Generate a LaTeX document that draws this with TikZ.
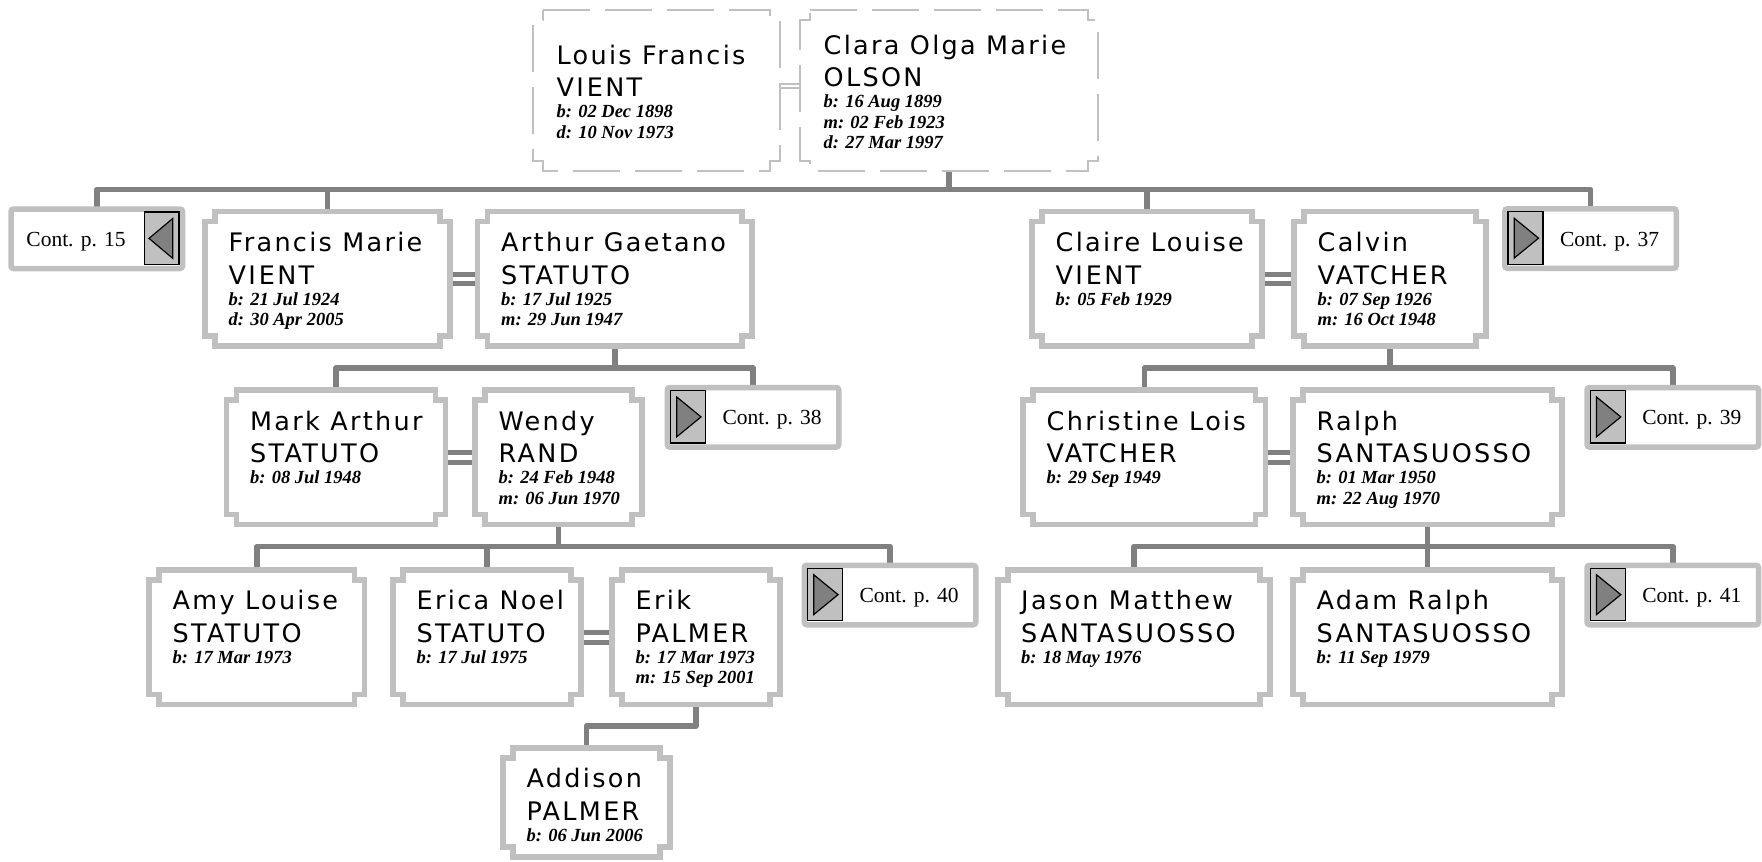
\documentclass[tikz,border=0pt]{standalone}
\usepackage{fontspec}
\setmainfont{Liberation Serif}
\newfontfamily\nmfont[LetterSpace=9]{DejaVu Sans}
\usetikzlibrary{calc}
\definecolor{lg}{HTML}{C0C0C0}
\definecolor{dg}{HTML}{808080}
\pgfdeclarelayer{bg}
\pgfsetlayers{bg,main}

\newcommand\nbox[6][]{%
  \node[inner sep=0pt, outer sep=0pt, minimum width={#5-#3}, minimum height={#6-#4}] (#2) at ({(#3+#5)/2},{(#4+#6)/2}) {};
  \draw[nb,#1] ({#3+10},#4) -- ({#5-10},#4) -- ({#5-10},{#4+10}) -- (#5,{#4+10}) -- (#5,{#6-10}) -- ({#5-10},{#6-10}) -- ({#5-10},#6) -- ({#3+10},#6) -- ({#3+10},{#6-10}) -- (#3,{#6-10}) -- (#3,{#4+10}) -- ({#3+10},{#4+10}) -- cycle;
}
\newcommand\pname[5]{%
  \node[nm] (#1-a) at (#2,#3) {#4};
  \node[nm] (#1-b) at (#2,{#3+32.5}) {#5};}
\newcommand\pdates[4]{%
  \foreach \dline [count=\i] in {#4} {\node[dt] (#1-d\i) at (#2,{#3+(\i-1)*20.5}) {\dline};}}
\newcommand\contR[4]{%
  \node[cbox] (#1) at (#2,#3) {};
  \path (#1.north west) coordinate (#1-tl);
  \draw[icon] ($(#1-tl)+(3.2,3)$) rectangle ($(#1-tl)+(38.2,55.5)$);
  \draw[tri] ($(#1-tl)+(9.5,9.5)$) -- ($(#1-tl)+(33.8,29.4)$) -- ($(#1-tl)+(9.5,49.3)$) -- cycle;
  \node[ct] (#1-t) at ($(#1-tl)+(104.85,37.25)$) {#4};}
\newcommand\contL[4]{%
  \node[cbox] (#1) at (#2,#3) {};
  \path (#1.north east) coordinate (#1-tr);
  \draw[icon] ($(#1-tr)+(-38.2,3)$) rectangle ($(#1-tr)+(-3.5,55.5)$);
  \draw[tri] ($(#1-tr)+(-9.8,9.5)$) -- ($(#1-tr)+(-33.5,29.4)$) -- ($(#1-tr)+(-9.8,49.3)$) -- cycle;
  \node[ct] (#1-t) at ($(#1.north west)+(65,37.25)$) {#4};}

\begin{document}
\begin{tikzpicture}[x=1pt,y=-1pt,
  nb/.style={draw=lg, line width=5.5pt, fill=white},
  topb/.style={line width=1.4pt, dash pattern=on 47pt off 15pt},
  conn/.style={draw=dg, line width=5.5pt, line join=round},
  dbar/.style={draw=dg, line width=5pt},
  thinbar/.style={draw=lg, line width=1.3pt},
  cbox/.style={draw=lg, line width=5.5pt, fill=white, rounded corners=2.5pt, minimum width=171.5pt, minimum height=59.5pt, inner sep=0pt, outer sep=0pt},
  icon/.style={draw=black, line width=1.1pt, fill=lg},
  tri/.style={draw=black, line width=1.2pt, fill=dg},
  ct/.style={anchor=base, inner sep=0pt, font=\fontsize{21.5}{24}\selectfont},
  nm/.style={anchor=base west, inner sep=0pt, font=\nmfont\fontsize{25.5}{30}\selectfont},
  dt/.style={anchor=base west, inner sep=0pt, font=\fontsize{18.5}{20}\selectfont\bfseries\itshape}]
\useasboundingbox (0,0) rectangle (1762,862);

% generation 1
\nbox[topb]{louis}{533}{10}{780}{171}
\pname{louis}{556.5}{64.3}{Louis Francis}{VI\kern3pt ENT}
\pdates{louis}{556.5}{117.7}{b: 02 Dec 1898,d: 10 Nov 1973}
\nbox[topb]{clara}{800}{10}{1098}{171}
\pname{clara}{823.5}{54}{Clara Olga Marie}{OLSON}
\pdates{clara}{823.5}{107.5}{b: 16 Aug 1899,m: 02 Feb 1923,d: 27 Mar 1997}

% generation 2
\contL{c15}{96.75}{238.75}{Cont. p. 15}
\nbox{francis}{205}{211.5}{450}{346}
\pname{francis}{228.5}{251.5}{Francis Marie}{VI\kern3pt ENT}
\pdates{francis}{228.5}{305}{b: 21 Jul 1924,d: 30 Apr 2005}
\nbox{arthur}{477.5}{211.5}{752}{346}
\pname{arthur}{501}{251.5}{Arthur Gaetano}{STATUTO}
\pdates{arthur}{501}{305}{b: 17 Jul 1925,m: 29 Jun 1947}
\nbox{claire}{1032}{211.5}{1262}{346}
\pname{claire}{1055.5}{251.5}{Claire Louise}{VI\kern3pt ENT}
\pdates{claire}{1055.5}{305}{b: 05 Feb 1929}
\nbox{calvin}{1294}{211.5}{1486}{346}
\pname{calvin}{1317.5}{251.5}{Calvin}{VATCHER}
\pdates{calvin}{1317.5}{305}{b: 07 Sep 1926,m: 16 Oct 1948}
\contR{c37}{1590.5}{238.5}{Cont. p. 37}

% generation 3
\nbox{mark}{226.5}{390}{445.5}{524.5}
\pname{mark}{250}{430}{Mark Arthur}{STATUTO}
\pdates{mark}{250}{483.5}{b: 08 Jul 1948}
\nbox{wendy}{475}{390}{642}{524.5}
\pname{wendy}{498.5}{430}{Wendy}{RAND}
\pdates{wendy}{498.5}{483.5}{b: 24 Feb 1948,m: 06 Jun 1970}
\contR{c38}{753}{417.25}{Cont. p. 38}
\nbox{christine}{1023}{390}{1265.5}{524.5}
\pname{christine}{1046.5}{430}{Christine Lois}{VATCHER}
\pdates{christine}{1046.5}{483.5}{b: 29 Sep 1949}
\nbox{ralph}{1293}{390}{1562}{524.5}
\pname{ralph}{1316.5}{430}{Ralph}{SANTASUOSSO}
\pdates{ralph}{1316.5}{483.5}{b: 01 Mar 1950,m: 22 Aug 1970}
\contR{c39}{1672.75}{417.25}{Cont. p. 39}

% generation 4
\nbox{amy}{149}{570}{364.5}{704.5}
\pname{amy}{172.5}{609.5}{Amy Louise}{STATUTO}
\pdates{amy}{172.5}{663}{b: 17 Mar 1973}
\nbox{erica}{393}{570}{581}{704.5}
\pname{erica}{416.5}{609.5}{Erica Noel}{STATUTO}
\pdates{erica}{416.5}{663}{b: 17 Jul 1975}
\nbox{erik}{612}{570}{780}{704.5}
\pname{erik}{635.5}{609.5}{Erik}{PALMER}
\pdates{erik}{635.5}{663}{b: 17 Mar 1973,m: 15 Sep 2001}
\contR{c40}{890}{595}{Cont. p. 40}
\nbox{jason}{998}{570}{1270}{704.5}
\pname{jason}{1021}{609.5}{Jason Matthew}{SANTASUOSSO}
\pdates{jason}{1021}{663}{b: 18 May 1976}
\nbox{adam}{1293}{570}{1562}{704.5}
\pname{adam}{1316.5}{609.5}{Adam Ralph}{SANTASUOSSO}
\pdates{adam}{1316.5}{663}{b: 11 Sep 1979}
\contR{c41}{1672.75}{595}{Cont. p. 41}

% generation 5
\nbox{addison}{503}{748}{670}{857}
\pname{addison}{526.5}{787.5}{Addison}{PALMER}
\pdates{addison}{526.5}{841}{b: 06 Jun 2006}

\coordinate (y1) at (0,189.5);
\coordinate (y2) at (0,368);
\coordinate (y3) at (0,546.5);
\coordinate (y4) at (0,725.8);

\begin{pgfonlayer}{bg}
% spouse bars
\draw[thinbar] ($(louis.north east)+(0,74)$) -- ($(clara.north west)+(0,74)$);
\draw[thinbar] ($(louis.north east)+(0,78)$) -- ($(clara.north west)+(0,78)$);
\foreach \a/\b in {francis/arthur,claire/calvin,mark/wendy,christine/ralph,erica/erik}{
  \draw[dbar] ($(\a.north east)+(0,62.5)$) -- ($(\b.north west)+(0,62.5)$);
  \draw[dbar] ($(\a.north east)+(0,72)$) -- ($(\b.north west)+(0,72)$);
}
% generation 1 to 2
\draw[conn] (clara.south) -- (clara.south |- y1);
\draw[conn] (c15.north) -- (c15.north |- y1) -- (c37.north |- y1) -- (c37.north);
\draw[conn] (francis.north) -- (francis.north |- y1);
\draw[conn] (claire.north) -- (claire.north |- y1);
% generation 2 to 3
\draw[conn] (arthur.south) -- (arthur.south |- y2);
\draw[conn] (mark.north) -- (mark.north |- y2) -- (c38.north |- y2) -- (c38.north);
\draw[conn] (calvin.south) -- (calvin.south |- y2);
\draw[conn] (christine.north) -- (christine.north |- y2) -- (c39.north |- y2) -- (c39.north);
% generation 3 to 4
\draw[conn] (wendy.south) -- (wendy.south |- y3);
\draw[conn] (amy.north) -- (amy.north |- y3) -- (c40.north |- y3) -- (c40.north);
\draw[conn] (erica.north) -- (erica.north |- y3);
\draw[conn] (ralph.south) -- (adam.north);
\draw[conn] (jason.north) -- (jason.north |- y3) -- (c41.north |- y3) -- (c41.north);
% generation 4 to 5
\draw[conn] (erik.south) -- (erik.south |- y4) -- (addison.north |- y4) -- (addison.north);
\end{pgfonlayer}
\end{tikzpicture}
\end{document}
